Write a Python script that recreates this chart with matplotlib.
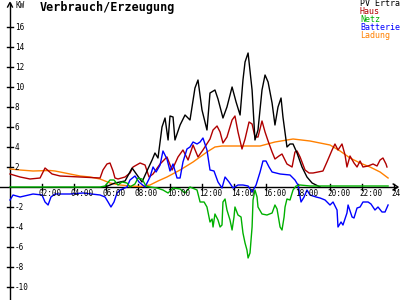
import numpy as np
import matplotlib
matplotlib.use("Agg")
import matplotlib.pyplot as plt

# time in hours, values in kW
pv_t = [5.94, 6.56, 7.19, 7.63, 7.94, 8.25, 8.56, 8.88, 9.06, 9.25, 9.5, 9.69, 9.88, 10.0,
        10.19, 10.31, 10.63, 10.94, 11.25, 11.56, 11.75, 12.0, 12.31, 12.5, 12.81, 13.0, 13.31,
        13.56, 13.88, 14.13, 14.38, 14.56, 14.69, 14.88, 15.13, 15.31, 15.5, 15.75, 15.94, 16.13,
        16.38, 16.56, 16.75, 16.94, 17.06, 17.31, 17.5, 17.69, 17.94, 18.25, 18.56, 18.88, 19.13, 19.38]
pv = [0, 0.4, 0.6, 1.9, 1.2, 0.5, 1.6, 2.7, 3.4, 2.9, 6.0, 6.9, 4.7, 7.1,
      7.0, 4.7, 6.2, 7.2, 6.7, 9.9, 10.7, 7.7, 5.7, 9.4, 9.7, 8.8, 6.9,
      8.0, 10.0, 8.5, 7.2, 10.7, 12.5, 13.4, 9.7, 4.7, 5.7, 9.7, 11.2, 10.5,
      8.4, 6.2, 8.0, 8.9, 7.0, 4.0, 4.3, 4.3, 3.4, 2.0, 1.0, 0.4, 0.2, 0]

haus_t = [0, 0.63, 1.25, 1.88, 2.19, 2.63, 3.13, 4.38, 5.63, 5.81, 6.06, 6.25, 6.44, 6.56, 6.75,
          7.19, 7.5, 7.69, 8.13, 8.44, 8.69, 8.94, 9.38, 9.81, 10.13, 10.5, 10.81, 11.13, 11.44,
          11.75, 12.06, 12.5, 12.69, 12.94, 13.13, 13.31, 13.56, 13.88, 14.06, 14.25, 14.5, 14.69,
          14.94, 15.13, 15.31, 15.5, 15.75, 15.94, 16.13, 16.38, 16.56, 16.81, 17.0, 17.31, 17.63,
          17.81, 17.94, 18.13, 18.44, 18.69, 18.94, 19.25, 19.56, 19.81, 20.13, 20.31, 20.5, 20.75,
          20.94, 21.06, 21.25, 21.5, 21.69, 21.88, 22.06, 22.38, 22.69, 22.94, 23.13, 23.31, 23.5, 23.56]
haus = [1.3, 1.0, 0.8, 0.9, 1.9, 1.3, 1.1, 1.0, 0.9, 1.7, 2.3, 2.4, 1.6, 0.9, 0.8,
        1.0, 1.4, 2.0, 2.4, 2.2, 1.0, 1.3, 2.3, 3.0, 1.7, 3.0, 3.7, 2.7, 4.2,
        3.0, 3.7, 4.8, 5.7, 6.1, 5.5, 4.4, 5.0, 6.7, 7.1, 5.5, 3.8, 4.8,
        6.5, 6.3, 5.0, 5.0, 6.6, 5.5, 4.6, 3.5, 2.8, 3.1, 3.3, 2.3, 2.0,
        3.5, 3.6, 3.0, 1.7, 1.4, 1.4, 1.5, 1.6, 2.5, 3.7, 4.3, 3.7, 4.3,
        3.2, 2.0, 3.1, 2.4, 2.0, 2.6, 2.0, 2.1, 2.3, 2.1, 2.7, 2.9, 2.3, 2.0]

netz_t = [0, 5.63, 5.94, 6.25, 6.5, 6.75, 7.0, 7.31, 7.5, 7.81, 8.0, 8.25, 8.5, 8.75, 9.19, 9.56,
          9.88, 10.19, 10.63, 10.94, 11.25, 11.69, 11.88, 12.13, 12.31, 12.5, 12.63, 12.69, 12.81,
          13.0, 13.13, 13.25, 13.31, 13.44, 13.56, 13.75, 13.88, 14.0, 14.06, 14.25, 14.44, 14.56,
          14.69, 14.81, 14.88, 15.0, 15.13, 15.19, 15.31, 15.44, 15.5, 15.75, 16.06, 16.38, 16.56,
          16.69, 16.88, 17.0, 17.13, 17.19, 17.31, 17.5, 17.69, 17.88, 18.13, 18.75, 20.0, 21.25,
          22.5, 23.63]
netz = [0, 0, 0.1, 0.7, 0.7, 0.2, 0.5, 0.4, 0, 0.3, 0.9, 0.8, 0.1, 0, -0.1, -0.3,
        -0.6, -0.1, -0.2, -0.6, 0, -0.3, -1.5, -1.5, -2.0, -3.5, -3.2, -4.0, -2.7,
        -3.3, -4.0, -3.8, -1.5, -1.2, -2.3, -3.3, -4.3, -3.0, -2.0, -2.8, -3.0, -4.6,
        -5.6, -6.3, -7.1, -6.6, -4.0, -1.3, -0.3, -1.0, -2.0, -2.7, -2.8, -2.6, -1.8,
        -2.2, -4.0, -4.3, -3.0, -2.0, -1.2, -1.3, -0.3, 0.1, 0.2, 0.1, 0.1, 0.1,
        0.1, 0.1]

batt_t = [0, 0.19, 0.63, 1.44, 2.0, 2.19, 2.38, 2.56, 2.81, 3.75, 4.56, 5.63, 5.94, 6.13, 6.31,
          6.5, 6.69, 6.88, 7.31, 7.5, 7.81, 8.06, 8.44, 8.75, 8.94, 9.13, 9.38, 9.56, 9.81, 10.0,
          10.19, 10.44, 10.63, 10.81, 11.06, 11.25, 11.44, 11.69, 11.88, 12.06, 12.31, 12.5, 12.75,
          13.0, 13.25, 13.44, 13.69, 13.94, 14.25, 14.56, 14.88, 15.13, 15.38, 15.63, 15.81, 16.0,
          16.19, 16.38, 16.88, 17.5, 17.81, 18.0, 18.19, 18.38, 18.56, 18.75, 19.13, 19.38, 19.69,
          20.0, 20.19, 20.44, 20.5, 20.69, 20.81, 21.06, 21.13, 21.38, 21.5, 21.69, 21.88, 22.06,
          22.38, 22.56, 22.81, 23.0, 23.25, 23.44, 23.63]
batt = [-1.3, -0.8, -1.0, -0.7, -0.8, -1.5, -1.8, -1.0, -0.7, -0.7, -0.6, -0.8, -1.0, -1.5, -2.0,
        -1.5, -0.6, -0.3, 0, 0.7, 1.1, 0.5, 0, 1.0, 2.0, 1.5, 2.2, 3.6, 2.8, 1.6,
        2.3, 0.9, 0.9, 2.5, 3.8, 4.0, 4.5, 4.3, 4.5, 4.9, 3.7, 1.7, 1.6,
        0.5, -0.1, 1.0, 0.5, -0.1, 0.2, 0.2, 0.1, -0.5, 0.2, 1.5, 2.6, 2.6,
        2.0, 1.5, 1.3, 1.2, 0.7, 0.2, -1.5, -1.0, -0.3, -0.8, -1.0, -1.1, -1.3,
        -1.8, -1.5, -2.3, -4.0, -3.5, -3.8, -2.6, -1.8, -3.0, -3.1, -2.1, -2.0, -1.5,
        -1.5, -1.7, -2.3, -2.0, -2.5, -2.5, -1.8]

ladung_t = [0, 0.63, 1.44, 2.5, 2.81, 3.13, 3.75, 4.38, 5.0, 5.63, 6.25, 6.88, 7.5, 8.13, 8.75,
            9.25, 9.81, 10.63, 11.44, 12.31, 12.81, 13.25, 15.63, 16.56, 17.69, 18.75, 20.0,
            20.63, 21.25, 21.88, 22.5, 23.13, 23.63]
ladung = [1.8, 1.7, 1.6, 1.65, 1.6, 1.5, 1.3, 1.1, 1.0, 0.8, 0.4, 0.2, 0.1, 0.05, 0.2,
          0.6, 1.0, 1.7, 2.5, 3.5, 4.0, 4.1, 4.1, 4.5, 4.8, 4.6, 4.2,
          3.6, 2.9, 2.4, 2.0, 1.5, 0.9]

y_ticks = [-10, -8, -6, -4, -2, 2, 4, 6, 8, 10, 12, 14, 16]
x_ticks = [2, 4, 6, 8, 10, 12, 14, 16, 18, 20, 22, 24]
x_labels = ["02:00", "04:00", "06:00", "08:00", "10:00", "12:00", "14:00", "16:00",
            "18:00", "20:00", "22:00", "24:00"]
legend = [("PV Ertra", "black"), ("Haus", "#b00000"), ("Netz", "#00b000"),
          ("Batterie", "#0000ff"), ("Ladung", "#ff8000")]

fig = plt.figure(figsize=(4, 3), dpi=100)
ax = fig.add_axes([0, 0, 1, 1])
ax.set_xlim(-0.625, 24.375)
ax.set_ylim(-11.3, 18.7)
ax.axis("off")

mono = "DejaVu Sans Mono"

# axes with arrows
ax.plot([-0.625, 24.2], [0, 0], color="black", lw=1)
ax.plot([0, 0], [-11.3, 18.4], color="black", lw=1)
ax.plot([-0.15, 0, 0.15], [18.0, 18.45, 18.0], color="black", lw=1)
ax.plot([23.95, 24.25, 23.95], [0.3, 0, -0.3], color="black", lw=1)

for v in y_ticks:
    ax.plot([-0.19, 0.19], [v, v], color="black", lw=1)
    ax.text(0.3, v, str(v), fontsize=5.5, family=mono, ha="left", va="center")
for t, lab in zip(x_ticks, x_labels):
    ax.plot([t, t], [-0.3, 0.3], color="black", lw=1)
    ax.text(t - 0.19, -0.7, lab, fontsize=5.5, family=mono, ha="left", va="center")

ax.plot(ladung_t, ladung, color="#ff8000", lw=1)
ax.plot(haus_t, haus, color="#b00000", lw=1)
ax.plot(pv_t, pv, color="black", lw=1)
ax.plot(batt_t, batt, color="#0000ff", lw=1)
ax.plot(netz_t, netz, color="#00b000", lw=1)

fig.text(15 / 400, 1 - 5 / 300, "KW", fontsize=5.5, family=mono, ha="left", va="center")
fig.text(40 / 400, 1 - 7.5 / 300, "Verbrauch/Erzeugung", fontsize=8.5, family=mono,
         weight="bold", ha="left", va="center")
for i, (name, col) in enumerate(legend):
    fig.text(360 / 400, 1 - (4 + 8 * i) / 300, name, fontsize=6, family=mono, color=col,
             ha="left", va="center")

fig.savefig("out.png", dpi=100)
